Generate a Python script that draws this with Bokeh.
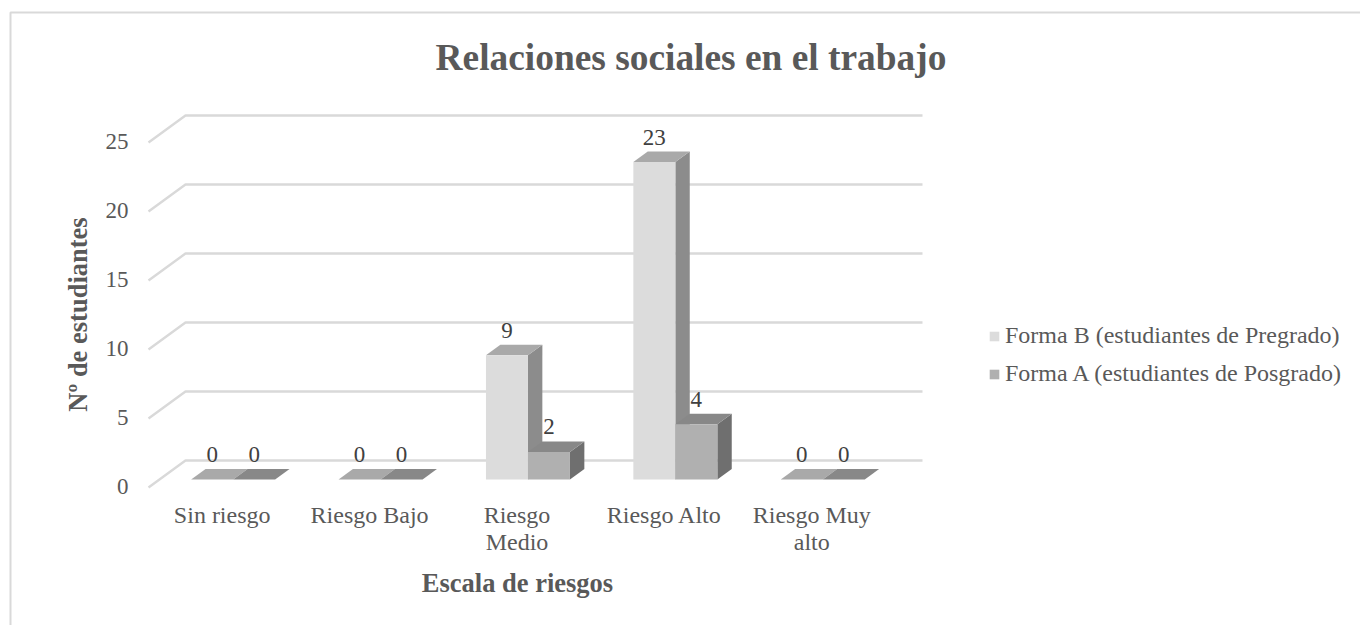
from bokeh.core.properties import value
from bokeh.embed import file_html
from bokeh.models import Legend, LegendItem
from bokeh.plotting import figure
from bokeh.resources import INLINE

categories = ["Sin riesgo", "Riesgo Bajo", "Riesgo\nMedio", "Riesgo Alto", "Riesgo Muy\nalto"]
forma_b = [0, 0, 9, 23, 0]
forma_a = [0, 0, 2, 4, 0]
series_names = ["Forma B (estudiantes de Pregrado)", "Forma A (estudiantes de Posgrado)"]
y_ticks = [0, 5, 10, 15, 20, 25]
chart_title = "Relaciones sociales en el trabajo"
x_title = "Escala de riesgos"
y_title = "Nº de estudiantes"

FONT = value("Liberation Serif")
TEXT = "#595959"
GRID = "#d9d9d9"

WIDTH, HEIGHT = 1360, 625
# Scale of the plot: pixels per category and per unit of value.
PX_CAT = 147.4
PX_VAL = 13.8
# Where category 0 and value 0 fall on the canvas.
ORIGIN_X, ORIGIN_Y = 148 + PX_CAT / 2, 487
# Oblique projection of the 3D box: full depth of the floor, in data units.
DEPTH_X = 37 / PX_CAT
DEPTH_Y = 27 / PX_VAL
# Depth at which the bars stand, and how deep they are.
BAR_D0 = 0.296
BAR_D1 = 0.685
BAR_W = 42 / PX_CAT


def cx(px):
    """Canvas pixel column to category units."""
    return (px - ORIGIN_X) / PX_CAT


def cy(px):
    """Canvas pixel row to value units."""
    return (ORIGIN_Y - px) / PX_VAL


# The plot frame fills the canvas so that every text can sit anywhere on it.
p = figure(
    width=WIDTH, height=HEIGHT, output_backend="svg", toolbar_location=None,
    x_range=(cx(0), cx(WIDTH)), y_range=(cy(HEIGHT), cy(0)),
    x_axis_type=None, y_axis_type=None,
    min_border=0, outline_line_color=None, background_fill_color="white",
)
p.grid.visible = False

# Chart area border: left and top edges only reach the canvas
p.line([cx(10), cx(10), cx(WIDTH)], [cy(HEIGHT), cy(12), cy(12)], line_color=GRID, line_width=2)

# Back wall gridlines with their diagonal run along the side wall
x0, x1 = -0.5, len(categories) - 0.5
p.multi_line(
    [[x0, x0 + DEPTH_X, x1 + DEPTH_X] for _ in y_ticks],
    [[v, v + DEPTH_Y, v + DEPTH_Y] for v in y_ticks],
    line_color=GRID, line_width=2.4,
)


def draw_bars(values, offset, front, top, side):
    """Draw one series as oblique boxes: side face, top face, front face."""
    fx, fy, tx, ty, sx, sy = [], [], [], [], [], []
    px = lambda x, d: x + d * DEPTH_X
    py = lambda y, d: y + d * DEPTH_Y
    for i, v in enumerate(values):
        l = i + offset * BAR_W
        r = l + BAR_W
        fx.append([px(l, BAR_D0), px(r, BAR_D0), px(r, BAR_D0), px(l, BAR_D0)])
        fy.append([py(0, BAR_D0), py(0, BAR_D0), py(v, BAR_D0), py(v, BAR_D0)])
        tx.append([px(l, BAR_D0), px(r, BAR_D0), px(r, BAR_D1), px(l, BAR_D1)])
        ty.append([py(v, BAR_D0), py(v, BAR_D0), py(v, BAR_D1), py(v, BAR_D1)])
        sx.append([px(r, BAR_D0), px(r, BAR_D1), px(r, BAR_D1), px(r, BAR_D0)])
        sy.append([py(0, BAR_D0), py(0, BAR_D1), py(v, BAR_D1), py(v, BAR_D0)])
    p.patches(sx, sy, fill_color=side, line_color=None)
    p.patches(tx, ty, fill_color=top, line_color=None)
    return p.patches(fx, fy, fill_color=front, line_color=None)


r_b = draw_bars(forma_b, -1, "#dcdcdc", "#a9a9a9", "#8c8c8c")
r_a = draw_bars(forma_a, 0, "#b0b0b0", "#888888", "#6f6f6f")

# Value labels above each bar
for values, offset in ((forma_b, -0.5), (forma_a, 0.5)):
    p.text(
        [i + offset * BAR_W + BAR_D0 * DEPTH_X for i in range(len(values))],
        [v + BAR_D0 * DEPTH_Y for v in values],
        text=[str(v) for v in values],
        text_align="center", text_baseline="middle", y_offset=-25,
        text_font=FONT, text_font_size=value("23px"), text_color="#404040",
    )

# Value axis labels
p.text(
    [cx(128)] * len(y_ticks), y_ticks, text=[str(v) for v in y_ticks],
    text_align="right", text_baseline="middle", y_offset=-1,
    text_font=FONT, text_font_size=value("23px"), text_color=TEXT,
)

# Category axis labels
p.text(
    list(range(len(categories))), [cy(501)] * len(categories), text=categories,
    text_align="center", text_baseline="top", text_line_height=1.05,
    text_font=FONT, text_font_size=value("24px"), text_color=TEXT,
)

# Chart title and axis titles
p.text(
    [cx(690.5)], [cy(57)], text=[chart_title], text_align="center", text_baseline="middle",
    text_font=FONT, text_font_size=value("37.4px"), text_font_style="bold", text_color=TEXT,
)
p.text(
    [cx(517)], [cy(582)], text=[x_title], text_align="center", text_baseline="middle",
    text_font=FONT, text_font_size=value("26.5px"), text_font_style="bold", text_color=TEXT,
)
p.text(
    [cx(77)], [cy(314)], text=[y_title], angle=90, angle_units="deg",
    text_align="center", text_baseline="middle",
    text_font=FONT, text_font_size=value("26.5px"), text_font_style="bold", text_color=TEXT,
)

# Legend to the right of the plot
legend = Legend(
    items=[LegendItem(label=series_names[0], renderers=[r_b]),
           LegendItem(label=series_names[1], renderers=[r_a])],
    location=(988, HEIGHT - 387), orientation="vertical",
    background_fill_alpha=0, border_line_color=None,
    label_text_font="Liberation Serif", label_text_font_size="24px", label_text_color=TEXT,
    glyph_width=12, glyph_height=12, label_standoff=5, spacing=11,
    margin=0, padding=0,
)
p.add_layout(legend, "center")

open("out.html", "w").write(file_html(p, INLINE))
